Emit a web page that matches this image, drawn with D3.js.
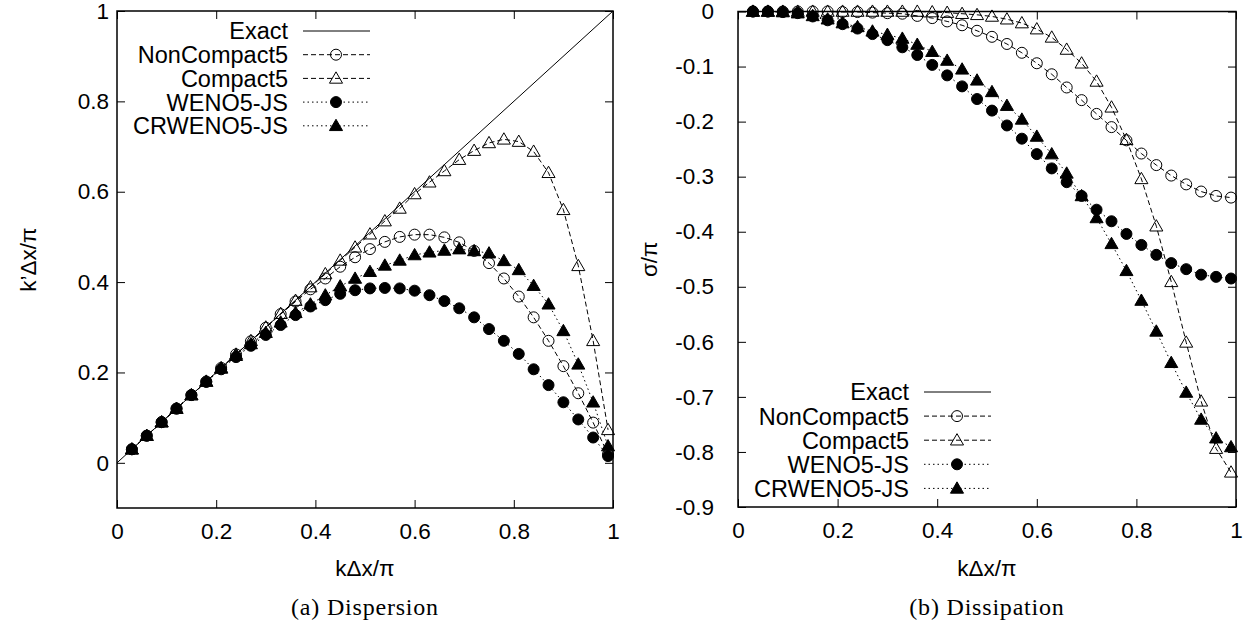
<!DOCTYPE html>
<html>
<head>
<meta charset="utf-8">
<script src="https://cdn.jsdelivr.net/npm/d3@7"></script>
<style>
  body { margin: 0; background: #fff; }
  text { font-family: "Liberation Sans", Arial, sans-serif; fill: #000; }
  .caption { font-family: "Liberation Serif", "Times New Roman", serif; }
</style>
</head>
<body>
<div id="chart"></div>
<script>
// wavenumber samples kΔx/π
const kx = [0.03, 0.06, 0.09, 0.12, 0.15, 0.18, 0.21, 0.24, 0.27, 0.30, 0.33,
            0.36, 0.39, 0.42, 0.45, 0.48, 0.51, 0.54, 0.57, 0.60, 0.63, 0.66,
            0.69, 0.72, 0.75, 0.78, 0.81, 0.84, 0.87, 0.90, 0.93, 0.96, 0.99];

// (a) dispersion, k'Δx/π
const nonCompactDisp = [0.030, 0.060, 0.090, 0.120, 0.150, 0.180, 0.210, 0.240, 0.269, 0.299, 0.329,
                        0.357, 0.384, 0.408, 0.434, 0.455, 0.473, 0.489, 0.500, 0.505, 0.505, 0.499,
                        0.488, 0.469, 0.442, 0.408, 0.368, 0.322, 0.270, 0.214, 0.154, 0.089, 0.019];
const compactDisp = [0.030, 0.060, 0.090, 0.120, 0.150, 0.180, 0.210, 0.240, 0.270, 0.300, 0.330,
                     0.359, 0.389, 0.418, 0.448, 0.477, 0.506, 0.535, 0.563, 0.595, 0.621, 0.646,
                     0.671, 0.691, 0.708, 0.716, 0.711, 0.689, 0.642, 0.560, 0.436, 0.270, 0.073];
const wenoDisp = [0.030, 0.060, 0.090, 0.120, 0.150, 0.179, 0.207, 0.234, 0.259, 0.283, 0.305,
                  0.327, 0.346, 0.360, 0.374, 0.382, 0.386, 0.387, 0.386, 0.381, 0.371, 0.358,
                  0.342, 0.322, 0.296, 0.270, 0.241, 0.207, 0.172, 0.134, 0.096, 0.056, 0.015];
const crwenoDisp = [0.030, 0.060, 0.090, 0.120, 0.150, 0.180, 0.209, 0.237, 0.263, 0.288, 0.311,
                    0.332, 0.351, 0.371, 0.391, 0.408, 0.423, 0.437, 0.448, 0.460, 0.466, 0.470,
                    0.473, 0.469, 0.464, 0.447, 0.427, 0.392, 0.351, 0.292, 0.218, 0.134, 0.037];

// (b) dissipation, σ/π
const nonCompactDiss = [0, 0, 0, 0, 0, 0, -0.001, -0.001, -0.002, -0.003, -0.004,
                        -0.008, -0.012, -0.018, -0.025, -0.035, -0.046, -0.059, -0.075, -0.094, -0.114, -0.138,
                        -0.161, -0.186, -0.210, -0.234, -0.258, -0.279, -0.298, -0.314, -0.327, -0.335, -0.338];
const compactDiss = [0, 0, 0, 0, 0, 0, 0, 0, 0, 0, 0,
                     0, -0.001, -0.002, -0.004, -0.006, -0.009, -0.014, -0.021, -0.032, -0.047, -0.069,
                     -0.094, -0.127, -0.174, -0.233, -0.304, -0.390, -0.491, -0.601, -0.708, -0.794, -0.837];
const wenoDiss = [0, 0, -0.001, -0.003, -0.009, -0.016, -0.023, -0.031, -0.041, -0.052, -0.065,
                  -0.079, -0.097, -0.116, -0.136, -0.159, -0.180, -0.207, -0.231, -0.259, -0.285, -0.310,
                  -0.335, -0.360, -0.381, -0.404, -0.424, -0.442, -0.457, -0.468, -0.478, -0.482, -0.485];
const crwenoDiss = [0, 0, -0.001, -0.003, -0.008, -0.014, -0.021, -0.028, -0.036, -0.042, -0.049,
                    -0.060, -0.073, -0.089, -0.105, -0.125, -0.146, -0.171, -0.196, -0.227, -0.259, -0.294,
                    -0.335, -0.375, -0.422, -0.471, -0.525, -0.581, -0.638, -0.692, -0.741, -0.775, -0.791];

const names = ["Exact", "NonCompact5", "Compact5", "WENO5-JS", "CRWENO5-JS"];
const xTicks = [0, 0.2, 0.4, 0.6, 0.8, 1];
const dispTicks = [0, 0.2, 0.4, 0.6, 0.8, 1];
const dissTicks = [0, -0.1, -0.2, -0.3, -0.4, -0.5, -0.6, -0.7, -0.8, -0.9];

const styles = [
  { dash: null,    marker: null,       filled: false },
  { dash: "5,3",   marker: "circle",   filled: false },
  { dash: "5,3",   marker: "triangle", filled: false },
  { dash: "1.5,3", marker: "circle",   filled: true },
  { dash: "1.5,3", marker: "triangle", filled: true }
];

const svg = d3.select("#chart")
  .append("svg")
  .attr("width", 1250)
  .attr("height", 624);

const fmt = d => (Math.abs(d) < 1e-9 ? "0" : String(+d.toFixed(1)));
const triangle = d3.symbol().type(d3.symbolTriangle).size(74);

function drawMarker(g, kind, filled, cx, cy) {
  if (kind === "circle") {
    g.append("circle")
      .attr("cx", cx).attr("cy", cy).attr("r", 5.5)
      .attr("fill", filled ? "#000" : "none")
      .attr("stroke", "#000").attr("stroke-width", 1);
  } else if (kind === "triangle") {
    g.append("path")
      .attr("d", triangle())
      .attr("transform", `translate(${cx},${cy + 1})`)
      .attr("fill", filled ? "#000" : "none")
      .attr("stroke", "#000").attr("stroke-width", 1);
  }
}

function panel(p) {
  const x = d3.scaleLinear().domain([0, 1]).range(p.xRange);
  const y = d3.scaleLinear().domain(p.yDomain).range(p.yRange);
  const g = svg.append("g");

  // frame
  g.append("rect")
    .attr("x", p.xRange[0]).attr("y", p.yRange[1])
    .attr("width", p.xRange[1] - p.xRange[0])
    .attr("height", p.yRange[0] - p.yRange[1])
    .attr("fill", "none").attr("stroke", "#000").attr("stroke-width", 1.5);

  const axisG = (axis, tx, ty) => {
    const a = g.append("g").attr("transform", `translate(${tx},${ty})`).call(axis);
    a.select(".domain").remove();
    a.selectAll("text").style("font-size", "22.5px").style("font-family", "'Liberation Sans', Arial, sans-serif");
    a.selectAll("line").attr("stroke-width", 1);
    return a;
  };
  axisG(d3.axisBottom(x).tickValues(xTicks).tickFormat(fmt).tickSize(-8).tickSizeOuter(0).tickPadding(15), 0, p.yRange[0]);
  axisG(d3.axisTop(x).tickValues(xTicks).tickFormat("").tickSize(-8).tickSizeOuter(0), 0, p.yRange[1]);
  axisG(d3.axisLeft(y).tickValues(p.yTicks).tickFormat(fmt).tickSize(-8).tickSizeOuter(0).tickPadding(p.yPad), p.xRange[0], 0);
  axisG(d3.axisRight(y).tickValues(p.yTicks).tickFormat("").tickSize(-8).tickSizeOuter(0), p.xRange[1], 0);

  // exact
  g.append("path")
    .datum(p.exact)
    .attr("d", d3.line().x(d => x(d[0])).y(d => y(d[1])))
    .attr("fill", "none").attr("stroke", "#000").attr("stroke-width", 1);

  // numerical schemes
  p.series.forEach((vals, si) => {
    const st = styles[si + 1];
    const pts = kx.map((k, i) => [k, vals[i]]);
    g.append("path")
      .datum(pts)
      .attr("d", d3.line().x(d => x(d[0])).y(d => y(d[1])))
      .attr("fill", "none").attr("stroke", "#000").attr("stroke-width", 1)
      .attr("stroke-dasharray", st.dash);
    const mg = g.append("g");
    pts.forEach(d => drawMarker(mg, st.marker, st.filled, x(d[0]), y(d[1])));
  });

  // legend
  const lg = g.append("g");
  names.forEach((n, i) => {
    const st = styles[i];
    const ly = p.legend[1] + i * p.legendStep;
    lg.append("text")
      .attr("x", p.legend[0]).attr("y", ly).attr("dy", "0.36em")
      .attr("text-anchor", "end")
      .style("font-size", "23.5px")
      .text(n);
    lg.append("line")
      .attr("x1", p.legend[0] + 15).attr("x2", p.legend[0] + 82)
      .attr("y1", ly).attr("y2", ly)
      .attr("stroke", "#000").attr("stroke-width", 1)
      .attr("stroke-dasharray", st.dash);
    drawMarker(lg, st.marker, st.filled, p.legend[0] + 48, ly);
  });

  // axis titles
  const cx = (p.xRange[0] + p.xRange[1]) / 2;
  g.append("text")
    .attr("x", cx).attr("y", 576)
    .attr("text-anchor", "middle")
    .style("font-size", "22.5px")
    .text("kΔx/π");
  g.append("text")
    .attr("transform", `translate(${p.yTitleX},${(p.yRange[0] + p.yRange[1]) / 2}) rotate(-90)`)
    .attr("text-anchor", "middle")
    .style("font-size", "22.5px")
    .text(p.yTitle);
  g.append("text")
    .attr("class", "caption")
    .attr("x", cx).attr("y", 615)
    .attr("text-anchor", "middle")
    .style("font-size", "24px")
    .style("letter-spacing", "0.8px")
    .text(p.caption);
}

panel({
  xRange: [117, 613],
  yDomain: [-0.1, 1],
  yRange: [508, 11],
  yTicks: dispTicks,
  yPad: 8,
  exact: [[0, 0], [1, 1]],
  series: [nonCompactDisp, compactDisp, wenoDisp, crwenoDisp],
  legend: [288, 31],
  legendStep: 23.7,
  yTitle: "k’Δx/π",
  yTitleX: 36,
  caption: "(a) Dispersion"
});

panel({
  xRange: [738, 1236],
  yDomain: [-0.9, 0],
  yRange: [507, 11.5],
  yTicks: dissTicks,
  yPad: 24,
  exact: [[0, 0], [1, 0]],
  series: [nonCompactDiss, compactDiss, wenoDiss, crwenoDiss],
  legend: [909, 392],
  legendStep: 24.1,
  yTitle: "σ/π",
  yTitleX: 657,
  caption: "(b) Dissipation"
});
</script>
</body>
</html>
